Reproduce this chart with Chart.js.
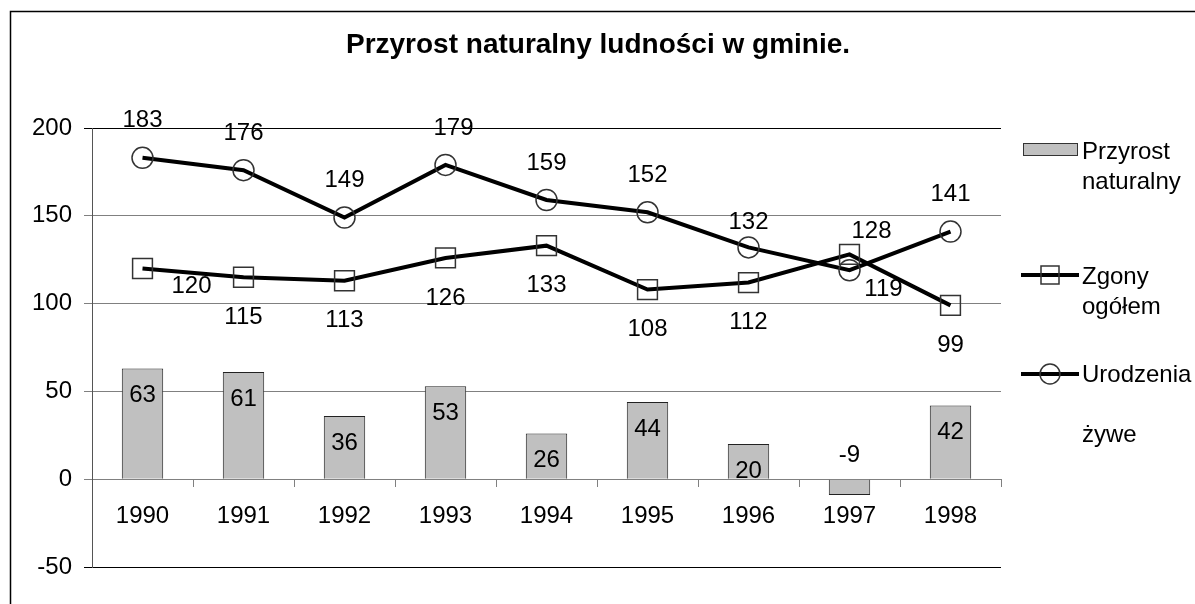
<!DOCTYPE html>
<html lang="pl">
<head>
<meta charset="utf-8">
<title>Przyrost naturalny ludności w gminie</title>
<script src="https://cdn.jsdelivr.net/npm/chart.js@4.4.1/dist/chart.umd.min.js"></script>
<style>
  html, body { margin: 0; padding: 0; background: #fff; }
  #wrap { width: 1195px; height: 604px; }
</style>
</head>
<body>
<div id="wrap"><canvas id="wykres" width="1195" height="604"></canvas></div>
<script>
// dane z wykresu
const lata = ['1990', '1991', '1992', '1993', '1994', '1995', '1996', '1997', '1998'];
const przyrost = [63, 61, 36, 53, 26, 44, 20, -9, 42];
const zgony = [120, 115, 113, 126, 133, 108, 112, 128, 99];
const urodzenia = [183, 176, 149, 179, 159, 152, 132, 119, 141];
const osY = [-50, 0, 50, 100, 150, 200];

const tytul = 'Przyrost naturalny ludności w gminie.';
const legenda = [['Przyrost', 'naturalny'], ['Zgony', 'ogółem'], ['Urodzenia', 'żywe']];

const czcionka = "'Liberation Sans', Arial, sans-serif";

// gdzie stoja etykiety wartosci (przesuniecie od punktu, w px)
const przesuniecia = {
    1: { zwykle: [0, 40], 0: [49, 18], 7: [22, -23] },
    2: { zwykle: [0, -37], 3: [8, -37], 6: [0, -25], 7: [34, 19] }
};

const rysunek = {
    id: 'rysunek',
    beforeDraw(chart) {
        const ctx = chart.ctx;
        ctx.save();
        ctx.fillStyle = '#fff';
        ctx.fillRect(0, 0, chart.width, chart.height);
        ctx.strokeStyle = '#000';
        ctx.lineWidth = 1.5;
        ctx.strokeRect(10.5, 11.5, 1400, 1400);
        ctx.restore();
    },
    afterDatasetsDraw(chart) {
        const ctx = chart.ctx;
        const zero = chart.scales.y.getPixelForValue(0);
        ctx.save();
        ctx.font = '24px ' + czcionka;
        ctx.fillStyle = '#000';
        ctx.textAlign = 'center';
        ctx.textBaseline = 'middle';

        chart.getDatasetMeta(0).data.forEach((bar, i) => {
            const v = przyrost[i];
            const y = v >= 0 ? bar.y + 27 : zero - 24;
            ctx.fillText(String(v), bar.x, y);
        });

        [1, 2].forEach((d) => {
            const wartosci = chart.data.datasets[d].data;
            chart.getDatasetMeta(d).data.forEach((pt, i) => {
                const p = przesuniecia[d][i] || przesuniecia[d].zwykle;
                ctx.fillText(String(wartosci[i]), pt.x + p[0], pt.y + p[1]);
            });
        });
        ctx.restore();
    },
    afterDraw(chart) {
        const ctx = chart.ctx;
        ctx.save();
        // tytul
        ctx.font = 'bold 28px ' + czcionka;
        ctx.fillStyle = '#000';
        ctx.textAlign = 'center';
        ctx.textBaseline = 'middle';
        ctx.fillText(tytul, 598, 45);

        // legenda
        ctx.font = '24px ' + czcionka;
        ctx.textAlign = 'left';
        ctx.fillStyle = '#c0c0c0';
        ctx.fillRect(1023, 143, 54, 12);
        ctx.strokeStyle = '#333';
        ctx.lineWidth = 1;
        ctx.strokeRect(1023.5, 143.5, 54, 12);
        ctx.fillStyle = '#000';
        ctx.fillText(legenda[0][0], 1082, 152);
        ctx.fillText(legenda[0][1], 1082, 182);

        ctx.strokeStyle = '#000';
        ctx.lineWidth = 4;
        ctx.beginPath();
        ctx.moveTo(1021, 275);
        ctx.lineTo(1079, 275);
        ctx.stroke();
        ctx.strokeStyle = '#333';
        ctx.lineWidth = 1.5;
        ctx.strokeRect(1041, 266, 18, 18);
        ctx.fillText(legenda[1][0], 1082, 277);
        ctx.fillText(legenda[1][1], 1082, 307);

        ctx.strokeStyle = '#000';
        ctx.lineWidth = 4;
        ctx.beginPath();
        ctx.moveTo(1021, 374);
        ctx.lineTo(1079, 374);
        ctx.stroke();
        ctx.strokeStyle = '#333';
        ctx.lineWidth = 1.5;
        ctx.beginPath();
        ctx.arc(1050, 374, 10, 0, Math.PI * 2);
        ctx.stroke();
        ctx.fillText(legenda[2][0], 1082, 375);
        ctx.fillText(legenda[2][1], 1082, 435);
        ctx.restore();
    }
};

new Chart(document.getElementById('wykres'), {
    data: {
        labels: lata,
        datasets: [
            {
                type: 'bar',
                label: 'Przyrost naturalny',
                data: przyrost,
                backgroundColor: '#c0c0c0',
                borderColor: '#222',
                borderWidth: 1,
                barPercentage: 0.41,
                categoryPercentage: 1,
                order: 3
            },
            {
                type: 'line',
                label: 'Zgony ogółem',
                data: zgony,
                borderColor: '#000',
                borderWidth: 4,
                tension: 0,
                pointStyle: 'rect',
                pointRadius: 14,
                pointBorderColor: '#333',
                pointBorderWidth: 1.5,
                pointBackgroundColor: 'rgba(0,0,0,0)',
                order: 2
            },
            {
                type: 'line',
                label: 'Urodzenia żywe',
                data: urodzenia,
                borderColor: '#000',
                borderWidth: 4,
                tension: 0,
                pointStyle: 'circle',
                pointRadius: 10.5,
                pointBorderColor: '#333',
                pointBorderWidth: 1.5,
                pointBackgroundColor: 'rgba(0,0,0,0)',
                order: 1
            }
        ]
    },
    options: {
        responsive: false,
        animation: false,
        devicePixelRatio: 1,
        layout: { padding: { left: 0, right: 194, top: 128, bottom: 37 } },
        plugins: {
            legend: { display: false },
            title: { display: false },
            tooltip: { enabled: false }
        },
        scales: {
            x: {
                position: { y: 0 },
                offset: true,
                grid: { offset: true, drawOnChartArea: false, drawTicks: true, tickLength: 7, color: '#808080' },
                border: { color: '#808080', width: 1 },
                ticks: { color: '#000', font: { family: czcionka, size: 24 }, padding: 16, maxRotation: 0, autoSkip: false }
            },
            y: {
                min: osY[0],
                max: osY[osY.length - 1],
                ticks: { stepSize: osY[1] - osY[0], color: '#000', font: { family: czcionka, size: 24 }, padding: 12 },
                grid: {
                    color: (c) => (c.tick && (c.tick.value === osY[0] || c.tick.value === osY[osY.length - 1])) ? '#000' : '#808080',
                    tickLength: 8
                },
                border: { color: '#555', width: 1 },
                afterFit(scale) { scale.width = 92; }
            }
        }
    },
    plugins: [rysunek]
});
</script>
</body>
</html>
